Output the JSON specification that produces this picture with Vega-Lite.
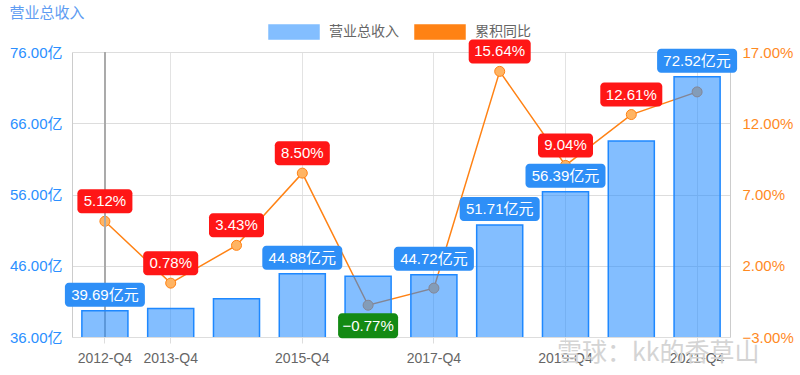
{
  "$schema": "https://vega.github.io/schema/vega-lite/v6.json",
  "width": 658,
  "height": 285,
  "autosize": {"type": "none"},
  "padding": {"left": 72, "top": 52, "right": 70, "bottom": 38},
  "background": "white",
  "config": {"font": "Liberation Sans, Noto Sans CJK SC", "view": {"stroke": null}},
  "title": {"text": "营业总收入", "anchor": "start", "frame": "bounds", "dx": 0, "fontSize": 15, "fontWeight": "normal", "color": "#5e9cf2", "offset": -15},
  "data": {"values": [
    {"year": "2012-Q4", "rev": 39.69, "pct": 5.12},
    {"year": "2013-Q4", "rev": 40.00, "pct": 0.78},
    {"year": "2014-Q4", "rev": 41.37, "pct": 3.43},
    {"year": "2015-Q4", "rev": 44.88, "pct": 8.50},
    {"year": "2016-Q4", "rev": 44.53, "pct": -0.77},
    {"year": "2017-Q4", "rev": 44.72, "pct": 0.43},
    {"year": "2018-Q4", "rev": 51.71, "pct": 15.64},
    {"year": "2019-Q4", "rev": 56.39, "pct": 9.04},
    {"year": "2020-Q4", "rev": 63.50, "pct": 12.61},
    {"year": "2021-Q4", "rev": 72.52, "pct": 14.20}
  ]},
  "transform": [
    {"calculate": "format(datum.rev, '.2f') + '亿元'", "as": "revLabel"},
    {"calculate": "format(datum.pct, '.2f') + '%'", "as": "pctLabel"}
  ],
  "encoding": {
    "x": {
      "field": "year", "type": "nominal", "sort": null,
      "scale": {"paddingInner": 0.3, "paddingOuter": 0.15},
      "axis": {
        "values": ["2012-Q4", "2013-Q4", "2015-Q4", "2017-Q4", "2019-Q4", "2021-Q4"],
        "title": null, "grid": true, "gridColor": "#e3e3e3", "bandPosition": 0.5,
        "tickColor": "#dddddd", "tickSize": 6, "domain": false,
        "labelColor": "#666666", "labelFontSize": 14, "labelPadding": 8, "labelAngle": 0
      }
    }
  },
  "layer": [
    {
      "mark": {"type": "line", "strokeWidth": 1.5},
      "encoding": {
        "y": {
          "field": "pct", "type": "quantitative",
          "scale": {"domain": [-3, 17], "nice": false, "zero": false},
          "axis": {
            "orient": "right", "values": [-3, 2, 7, 12, 17], "title": null,
            "labelExpr": "format(datum.value, '.2f') + '%'",
            "labelColor": "#ff8a1f", "labelFontSize": 15, "grid": false,
            "domain": true, "domainColor": "#cccccc", "ticks": false, "labelPadding": 12
          }
        },
        "color": {
          "datum": "累积同比",
          "scale": {"domain": ["营业总收入", "累积同比"], "range": ["#83beff", "#ff8214"]},
          "legend": {
            "title": null, "orient": "none", "legendX": 196, "legendY": -46,
            "direction": "horizontal", "labelFontSize": 14, "labelColor": "#666666",
            "labelOffset": 9, "columnPadding": 13, "symbolSize": 2500,
            "symbolType": "M-1,-0.28L1,-0.28L1,0.28L-1,0.28Z",
            "encode": {"symbols": {"update": {
              "fill": {"scale": "color", "field": "value"},
              "stroke": {"signal": "datum.value === '营业总收入' ? '#1e88ff' : '#ff8214'"},
              "strokeWidth": {"value": 1.5},
              "opacity": {"value": 1},
              "fillOpacity": {"value": 1}
            }}}
          }
        }
      }
    },
    {
      "mark": {"type": "point", "filled": true, "fill": "#ffb463", "stroke": "#ff8214", "strokeWidth": 1, "size": 100, "opacity": 1},
      "encoding": {
        "y": {"field": "pct", "type": "quantitative", "scale": {"domain": [-3, 17], "nice": false, "zero": false}, "axis": null}
      }
    },
    {
      "mark": {"type": "rule", "color": "#aaaaaa", "strokeWidth": 1},
      "encoding": {"x": {"datum": "2012-Q4"}}
    },
    {
      "mark": {"type": "bar", "fill": "#1e88ff", "fillOpacity": 0.55, "stroke": "#1e88ff", "strokeWidth": 1.5, "clip": true},
      "encoding": {
        "y": {
          "field": "rev", "type": "quantitative",
          "scale": {"domain": [36, 76], "nice": false, "zero": false},
          "axis": {
            "orient": "left", "values": [36, 46, 56, 66, 76], "title": null,
            "labelExpr": "format(datum.value, '.2f') + '亿'",
            "labelColor": "#2b8fff", "labelFontSize": 15, "grid": true, "gridColor": "#dddddd",
            "domain": true, "domainColor": "#cccccc", "ticks": false, "labelPadding": 10
          }
        }
      }
    },
    {
      "transform": [{"filter": {"field": "year", "oneOf": ["2012-Q4", "2015-Q4", "2017-Q4", "2018-Q4", "2019-Q4", "2021-Q4"]}}],
      "mark": {"type": "bar", "width": 80, "color": "#2e8ff7", "cornerRadius": 4, "yOffset": -28, "y2Offset": -4},
      "encoding": {
        "y": {"field": "rev", "type": "quantitative", "scale": {"domain": [36, 76], "nice": false, "zero": false}, "axis": null},
        "y2": {"field": "rev"}
      }
    },
    {
      "transform": [{"filter": {"field": "year", "oneOf": ["2012-Q4", "2015-Q4", "2017-Q4", "2018-Q4", "2019-Q4", "2021-Q4"]}}],
      "mark": {"type": "text", "color": "white", "fontSize": 15, "dy": -16, "baseline": "middle", "align": "center"},
      "encoding": {
        "y": {"field": "rev", "type": "quantitative", "scale": {"domain": [36, 76], "nice": false, "zero": false}, "axis": null},
        "text": {"field": "revLabel"}
      }
    },
    {
      "transform": [{"filter": {"field": "year", "oneOf": ["2012-Q4", "2013-Q4", "2014-Q4", "2015-Q4", "2019-Q4"]}}],
      "mark": {"type": "bar", "width": 55, "color": "#ff1616", "cornerRadius": 4, "yOffset": -32, "y2Offset": -8},
      "encoding": {
        "y": {"field": "pct", "type": "quantitative", "scale": {"domain": [-3, 17], "nice": false, "zero": false}, "axis": null},
        "y2": {"field": "pct"}
      }
    },
    {
      "transform": [{"filter": {"field": "year", "oneOf": ["2018-Q4", "2020-Q4"]}}],
      "mark": {"type": "bar", "width": 62, "color": "#ff1616", "cornerRadius": 4, "yOffset": -32, "y2Offset": -8},
      "encoding": {
        "y": {"field": "pct", "type": "quantitative", "scale": {"domain": [-3, 17], "nice": false, "zero": false}, "axis": null},
        "y2": {"field": "pct"}
      }
    },
    {
      "transform": [{"filter": {"field": "year", "oneOf": ["2016-Q4"]}}],
      "mark": {"type": "bar", "width": 60, "color": "#138a13", "cornerRadius": 4, "yOffset": 8, "y2Offset": 33},
      "encoding": {
        "y": {"field": "pct", "type": "quantitative", "scale": {"domain": [-3, 17], "nice": false, "zero": false}, "axis": null},
        "y2": {"field": "pct"}
      }
    },
    {
      "transform": [{"filter": {"field": "year", "oneOf": ["2012-Q4", "2013-Q4", "2014-Q4", "2015-Q4", "2018-Q4", "2019-Q4", "2020-Q4"]}}],
      "mark": {"type": "text", "color": "white", "fontSize": 15, "dy": -20, "baseline": "middle", "align": "center"},
      "encoding": {
        "y": {"field": "pct", "type": "quantitative", "scale": {"domain": [-3, 17], "nice": false, "zero": false}, "axis": null},
        "text": {"field": "pctLabel"}
      }
    },
    {
      "transform": [{"filter": {"field": "year", "oneOf": ["2016-Q4"]}}],
      "mark": {"type": "text", "color": "white", "fontSize": 15, "dy": 21, "baseline": "middle", "align": "center"},
      "encoding": {
        "y": {"field": "pct", "type": "quantitative", "scale": {"domain": [-3, 17], "nice": false, "zero": false}, "axis": null},
        "text": {"field": "pctLabel"}
      }
    },
    {
      "data": {"values": [{"wm": "雪球：kk的香草山"}]},
      "mark": {"type": "text", "color": "#d4d4d4", "fontSize": 25, "dx": 27, "dy": 16, "baseline": "middle", "align": "center", "font": "Noto Sans CJK SC"},
      "encoding": {
        "x": {"datum": "2020-Q4"},
        "y": {"datum": -3, "type": "quantitative", "scale": {"domain": [-3, 17], "nice": false, "zero": false}, "axis": null},
        "text": {"field": "wm"}
      }
    }
  ],
  "resolve": {"scale": {"y": "independent"}, "axis": {"y": "independent"}}
}
